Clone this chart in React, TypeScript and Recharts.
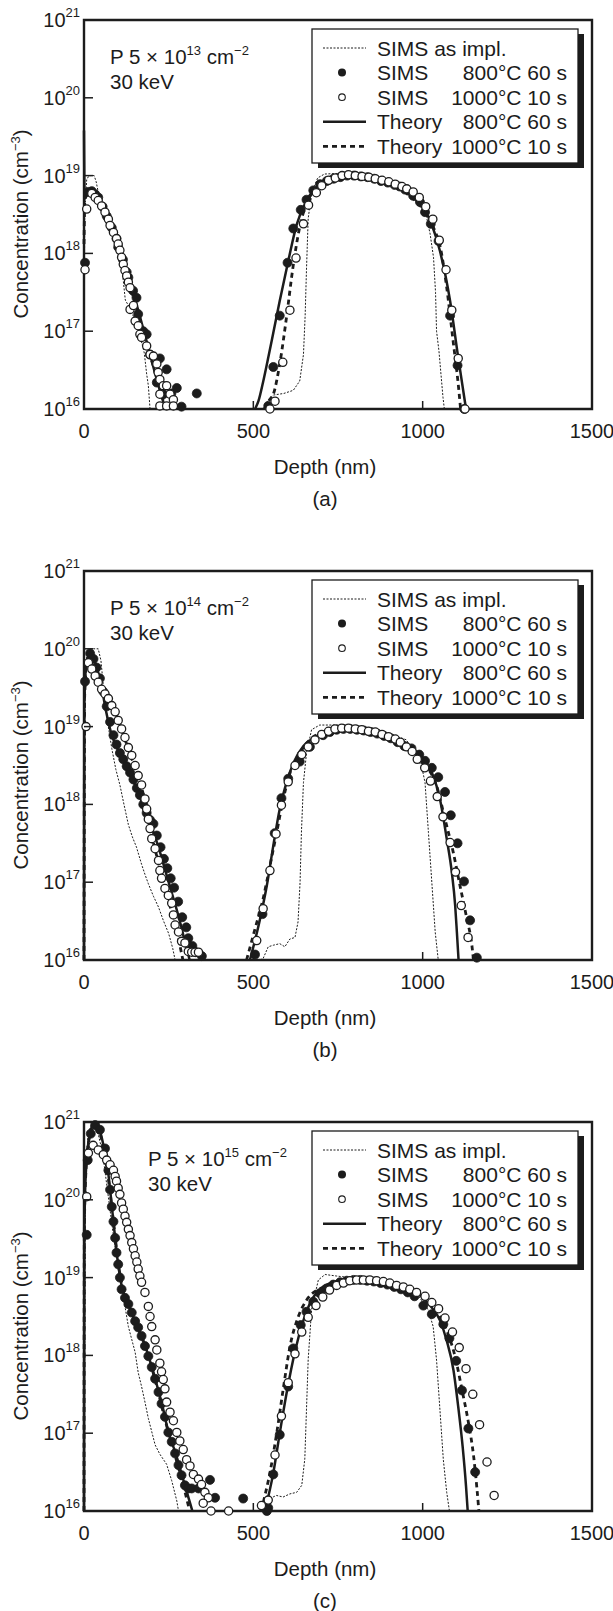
import React from 'react'
import { ComposedChart, Line, Scatter, XAxis, YAxis, ReferenceArea } from 'recharts'

// [depth in nm, log10 of concentration in cm^-3]
type Pt = [number, number]

const depthTicks = [0, 500, 1000, 1500]
const concTicks = [1e16, 1e17, 1e18, 1e19, 1e20, 1e21]

// ---- (a) P 5e13 cm-2 ----
const aImplNear: Pt[] = [[0, 16], [2, 18.5], [8, 18.95], [15, 19.0], [30, 19.0], [36, 18.92], [45, 18.72], [57, 18.46], [75, 18.3], [95, 18.12], [108, 17.95], [116, 17.65], [122, 17.4], [135, 17.3], [150, 17.15], [165, 16.95], [178, 16.72], [185, 16.45], [190, 16.3], [195, 16.0]]
const aImplDeep: Pt[] = [[528, 16.0], [545, 16.12], [560, 16.18], [590, 16.2], [618, 16.24], [637, 16.36], [648, 16.7], [653, 17.2], [657, 17.8], [662, 18.45], [672, 18.77], [690, 18.97], [710, 19.02], [760, 19.03], [820, 19.01], [880, 18.97], [940, 18.88], [990, 18.7], [1010, 18.5], [1022, 18.25], [1032, 17.95], [1038, 17.5], [1041, 17.0], [1048, 16.75], [1055, 16.4], [1060, 16.15], [1064, 16.0]]
const aS800Near: Pt[] = [[3, 17.88], [13, 18.79], [23, 18.8], [33, 18.76], [42, 18.72], [55, 18.6], [67, 18.48], [82, 18.33], [96, 18.19], [101, 18.08], [115, 17.92], [126, 17.76], [131, 17.69], [145, 17.52], [155, 17.43], [160, 17.22], [175, 17.0], [185, 16.96], [195, 16.7], [215, 16.34], [224, 16.65], [234, 16.19], [244, 16.51], [258, 16.2], [274, 16.27], [288, 16.03], [333, 16.2]]
const aS800Deep: Pt[] = [[544, 16.04], [559, 16.54], [578, 17.2], [601, 17.88], [618, 18.32], [640, 18.56], [657, 18.69], [677, 18.81], [697, 18.89], [717, 18.93], [737, 18.96], [757, 18.98], [777, 19.0], [797, 19.0], [817, 18.99], [837, 18.98], [857, 18.96], [877, 18.93], [897, 18.91], [917, 18.88], [932, 18.86], [948, 18.82], [972, 18.74], [992, 18.66], [1007, 18.53], [1024, 18.38], [1047, 18.16], [1081, 17.2], [1103, 16.56], [1123, 16.0]]
const aS1000Near: Pt[] = [[3, 17.79], [8, 18.57], [23, 18.77], [33, 18.72], [42, 18.68], [52, 18.61], [62, 18.53], [72, 18.44], [77, 18.36], [87, 18.27], [96, 18.19], [101, 18.12], [106, 18.04], [111, 17.95], [116, 17.86], [121, 17.78], [126, 17.71], [131, 17.63], [136, 17.56], [136, 17.28], [146, 17.33], [151, 17.13], [160, 17.07], [165, 16.96], [170, 16.92], [185, 16.81], [195, 16.7], [205, 16.68], [215, 16.58], [219, 16.47], [224, 16.38], [234, 16.3], [244, 16.3], [254, 16.19], [264, 16.12], [224, 16.19], [224, 16.04], [244, 16.04], [264, 16.04]]
const aS1000Deep: Pt[] = [[549, 16.0], [564, 16.1], [587, 16.6], [608, 17.27], [626, 17.94], [648, 18.38], [663, 18.62], [686, 18.78], [702, 18.87], [722, 18.94], [742, 18.97], [762, 19.0], [781, 19.01], [801, 19.0], [821, 18.99], [841, 18.98], [860, 18.96], [880, 18.94], [900, 18.92], [919, 18.89], [939, 18.86], [953, 18.83], [972, 18.79], [990, 18.72], [1009, 18.6], [1030, 18.44], [1049, 18.17], [1069, 17.79], [1086, 17.27], [1105, 16.65], [1125, 16.0]]
const aT800Near: Pt[] = [[0, 19.58], [2, 18.7], [10, 18.76], [22, 18.79], [40, 18.72], [60, 18.55], [80, 18.36], [100, 18.13], [120, 17.87], [140, 17.57], [160, 17.27], [180, 16.95], [200, 16.62], [220, 16.3], [235, 16.08], [240, 16.0]]
const aT800Deep: Pt[] = [[505, 16.0], [515, 16.1], [529, 16.35], [545, 16.68], [559, 16.98], [578, 17.39], [603, 17.9], [628, 18.37], [657, 18.68], [687, 18.85], [736, 18.98], [785, 19.0], [854, 18.96], [923, 18.85], [982, 18.68], [1022, 18.42], [1051, 18.03], [1081, 17.39], [1105, 16.66], [1128, 16.0]]
const aT1000Near: Pt[] = [[0, 18.12], [3, 18.72], [15, 18.77], [30, 18.75], [50, 18.63], [75, 18.4], [100, 18.1], [125, 17.75], [150, 17.38], [175, 17.0], [200, 16.62], [222, 16.3], [236, 16.08], [242, 16.0]]
const aT1000Deep: Pt[] = [[534, 16.0], [548, 16.12], [559, 16.19], [578, 16.58], [598, 17.18], [617, 17.82], [637, 18.34], [657, 18.64], [687, 18.85], [736, 18.98], [785, 19.0], [854, 18.96], [923, 18.85], [982, 18.66], [1020, 18.45], [1035, 18.3], [1051, 18.1], [1071, 17.56], [1090, 16.87], [1105, 16.32], [1112, 16.0]]

// ---- (b) P 5e14 cm-2 ----
const bImplNear: Pt[] = [[0, 16], [3, 19.3], [8, 19.9], [18, 20.0], [42, 20.0], [50, 19.85], [57, 19.53], [70, 19.05], [82, 18.72], [94, 18.45], [106, 18.25], [118, 18.0], [131, 17.74], [143, 17.58], [155, 17.45], [170, 17.23], [180, 17.1], [190, 16.98], [205, 16.82], [220, 16.68], [235, 16.5], [250, 16.34], [262, 16.15], [269, 16.0]]
const bImplDeep: Pt[] = [[520, 16.0], [529, 16.02], [544, 16.17], [559, 16.19], [578, 16.21], [593, 16.17], [608, 16.27], [623, 16.29], [632, 16.49], [638, 17.0], [642, 17.64], [648, 18.28], [657, 18.66], [672, 18.96], [696, 19.02], [755, 19.02], [854, 18.98], [952, 18.83], [997, 18.49], [1007, 18.28], [1017, 17.64], [1027, 17.0], [1037, 16.36], [1046, 16.0]]
const bS800Near: Pt[] = [[3, 19.58], [18, 19.94], [28, 19.87], [37, 19.76], [47, 19.62], [57, 19.45], [67, 19.26], [77, 19.06], [87, 18.89], [96, 18.77], [106, 18.66], [116, 18.58], [126, 18.49], [136, 18.41], [146, 18.32], [156, 18.21], [165, 18.12], [175, 18.0], [185, 17.89], [195, 17.8], [205, 17.75], [215, 17.6], [226, 17.45], [236, 17.3], [246, 17.18], [256, 17.05], [266, 16.93], [278, 16.75], [290, 16.55], [302, 16.42], [308, 16.28], [320, 16.18], [330, 16.1], [348, 16.05]]
const bS800Deep: Pt[] = [[505, 16.07], [527, 16.59], [563, 17.63], [583, 18.08], [603, 18.33], [637, 18.55], [667, 18.74], [706, 18.89], [726, 18.93], [746, 18.96], [766, 18.97], [786, 18.97], [806, 18.96], [826, 18.95], [846, 18.93], [866, 18.91], [886, 18.88], [906, 18.85], [926, 18.8], [946, 18.75], [967, 18.72], [990, 18.64], [1007, 18.56], [1027, 18.47], [1046, 18.35], [1066, 18.16], [1083, 17.86], [1103, 17.5], [1122, 17.01], [1140, 16.51], [1160, 16.03]]
const bS1000Near: Pt[] = [[6, 19.0], [13, 19.82], [23, 19.74], [33, 19.65], [42, 19.57], [52, 19.48], [62, 19.42], [72, 19.36], [82, 19.27], [92, 19.19], [101, 19.08], [111, 18.97], [121, 18.86], [131, 18.73], [141, 18.63], [151, 18.5], [160, 18.37], [170, 18.25], [180, 18.07], [185, 17.94], [190, 17.81], [195, 17.69], [200, 17.56], [210, 17.43], [220, 17.28], [224, 17.15], [229, 17.05], [239, 16.92], [249, 16.83], [259, 16.73], [264, 16.58], [269, 16.45], [279, 16.36], [288, 16.24], [298, 16.22], [308, 16.11], [318, 16.1], [328, 16.1], [338, 16.1]]
const bS1000Deep: Pt[] = [[510, 16.25], [529, 16.66], [549, 17.15], [567, 17.62], [583, 17.99], [603, 18.29], [623, 18.5], [643, 18.64], [662, 18.74], [682, 18.83], [702, 18.9], [722, 18.94], [741, 18.97], [761, 18.98], [781, 18.98], [801, 18.97], [820, 18.96], [840, 18.94], [860, 18.93], [880, 18.9], [899, 18.87], [919, 18.84], [934, 18.8], [952, 18.74], [969, 18.68], [984, 18.58], [1006, 18.47], [1023, 18.3], [1043, 18.1], [1060, 17.84], [1081, 17.51], [1097, 17.13], [1114, 16.7], [1134, 16.29]]
const bT800Near: Pt[] = [[0, 16.0], [1, 19.3], [8, 19.85], [20, 19.93], [35, 19.8], [50, 19.55], [65, 19.2], [80, 18.92], [100, 18.7], [120, 18.52], [140, 18.35], [160, 18.15], [180, 17.93], [200, 17.7], [220, 17.45], [240, 17.15], [260, 16.85], [280, 16.55], [300, 16.2], [312, 16.0]]
const bT800Deep: Pt[] = [[490, 16.0], [520, 16.53], [540, 16.96], [559, 17.47], [578, 17.94], [598, 18.28], [618, 18.53], [648, 18.75], [677, 18.85], [716, 18.94], [775, 18.98], [854, 18.96], [913, 18.87], [962, 18.75], [997, 18.6], [1027, 18.41], [1051, 18.07], [1071, 17.56], [1086, 17.13], [1096, 16.7], [1101, 16.36], [1106, 16.0]]
const bT1000Near: Pt[] = [[0, 16.0], [2, 19.4], [10, 19.85], [22, 19.78], [40, 19.6], [60, 19.42], [80, 19.28], [100, 19.1], [120, 18.85], [140, 18.6], [160, 18.35], [180, 18.05], [200, 17.6], [220, 17.25], [245, 16.85], [265, 16.5], [280, 16.25], [292, 16.0]]
const bT1000Deep: Pt[] = [[480, 16.0], [505, 16.4], [529, 16.79], [549, 17.21], [569, 17.64], [588, 18.06], [608, 18.4], [637, 18.66], [667, 18.83], [716, 18.94], [775, 18.98], [854, 18.96], [913, 18.87], [962, 18.72], [1012, 18.49], [1041, 18.24], [1066, 17.81], [1090, 17.39], [1110, 16.96], [1130, 16.54], [1145, 16.2], [1150, 16.0]]

// ---- (c) P 5e15 cm-2 ----
const cImplNear: Pt[] = [[0, 16.0], [4, 20.3], [12, 20.85], [23, 20.98], [38, 20.92], [55, 20.6], [70, 20.1], [85, 19.6], [100, 19.15], [112, 18.85], [121, 18.63], [131, 18.37], [151, 18.04], [160, 17.78], [170, 17.6], [180, 17.4], [190, 17.19], [210, 16.85], [224, 16.73], [244, 16.6], [259, 16.39], [274, 16.13], [279, 16.0]]
const cImplDeep: Pt[] = [[530, 16.0], [549, 16.16], [568, 16.2], [588, 16.18], [608, 16.22], [628, 16.24], [643, 16.33], [652, 16.67], [657, 17.31], [662, 17.95], [672, 18.59], [692, 18.97], [712, 19.04], [746, 19.02], [805, 18.99], [880, 18.95], [940, 18.88], [982, 18.8], [1017, 18.58], [1031, 18.37], [1041, 17.94], [1051, 17.3], [1061, 16.66], [1071, 16.24], [1079, 16.0]]
const cS800Near: Pt[] = [[8, 19.55], [11, 20.51], [20, 20.85], [33, 20.96], [47, 20.9], [62, 20.66], [72, 20.38], [77, 20.13], [82, 19.91], [87, 19.72], [92, 19.51], [96, 19.32], [101, 19.17], [106, 19.0], [111, 18.85], [121, 18.74], [131, 18.66], [141, 18.55], [151, 18.44], [160, 18.36], [170, 18.25], [180, 18.12], [190, 17.99], [200, 17.85], [210, 17.7], [220, 17.53], [229, 17.38], [239, 17.21], [249, 17.01], [259, 16.89], [269, 16.74], [279, 16.59], [288, 16.46], [298, 16.33], [308, 16.29], [318, 16.29], [338, 16.29], [372, 16.4], [387, 16.17], [470, 16.16], [540, 16.0]]
const cS800Deep: Pt[] = [[544, 16.04], [559, 16.47], [578, 16.98], [603, 17.6], [618, 18.09], [640, 18.39], [657, 18.56], [677, 18.69], [696, 18.8], [716, 18.86], [736, 18.91], [756, 18.94], [776, 18.96], [796, 18.97], [816, 18.97], [836, 18.96], [856, 18.95], [876, 18.93], [896, 18.91], [916, 18.88], [936, 18.85], [956, 18.81], [976, 18.76], [1002, 18.64], [1027, 18.53], [1061, 18.4], [1079, 18.22], [1099, 17.93], [1116, 17.55], [1135, 17.06], [1155, 16.5]]
const cS1000Near: Pt[] = [[8, 20.04], [13, 20.6], [27, 20.7], [42, 20.64], [57, 20.58], [67, 20.51], [77, 20.45], [87, 20.38], [92, 20.3], [96, 20.24], [101, 20.15], [106, 20.07], [111, 19.96], [116, 19.88], [121, 19.79], [126, 19.71], [131, 19.62], [136, 19.54], [141, 19.45], [146, 19.37], [151, 19.28], [156, 19.2], [160, 19.11], [165, 19.02], [170, 18.94], [180, 18.81], [190, 18.63], [195, 18.5], [200, 18.37], [210, 18.2], [215, 18.07], [224, 17.9], [229, 17.79], [234, 17.69], [239, 17.57], [244, 17.4], [254, 17.27], [264, 17.16], [274, 17.01], [283, 16.9], [293, 16.79], [303, 16.66], [313, 16.58], [323, 16.47], [338, 16.41], [347, 16.34], [357, 16.24], [367, 16.17], [352, 16.1], [375, 16.0], [427, 16.0]]
const cS1000Deep: Pt[] = [[524, 16.07], [544, 16.14], [564, 16.72], [583, 17.22], [603, 17.65], [623, 18.02], [643, 18.3], [662, 18.49], [685, 18.64], [705, 18.75], [725, 18.84], [746, 18.9], [766, 18.93], [785, 18.96], [805, 18.97], [825, 18.97], [844, 18.97], [864, 18.96], [884, 18.95], [903, 18.93], [923, 18.9], [943, 18.88], [962, 18.85], [982, 18.81], [1007, 18.76], [1027, 18.68], [1047, 18.6], [1066, 18.48], [1088, 18.3], [1108, 18.1], [1128, 17.83], [1148, 17.5], [1168, 17.11], [1190, 16.63], [1211, 16.2]]
const cT800Near: Pt[] = [[0, 16.0], [1, 19.5], [4, 20.2], [12, 20.7], [25, 20.95], [40, 20.95], [55, 20.75], [70, 20.4], [85, 19.8], [100, 19.2], [110, 18.92], [130, 18.66], [150, 18.45], [170, 18.25], [190, 18.0], [210, 17.7], [230, 17.38], [250, 17.0], [270, 16.75], [290, 16.45], [310, 16.15], [320, 16.0]]
const cT800Deep: Pt[] = [[534, 16.0], [559, 16.49], [578, 17.0], [598, 17.51], [624, 18.07], [648, 18.45], [672, 18.71], [707, 18.88], [756, 18.96], [829, 18.98], [903, 18.94], [972, 18.84], [1022, 18.64], [1051, 18.45], [1071, 18.19], [1091, 17.81], [1105, 17.34], [1118, 16.83], [1128, 16.32], [1133, 16.0]]
const cT1000Near: Pt[] = [[0, 16.0], [1, 19.6], [5, 20.3], [14, 20.75], [28, 20.93], [42, 20.9], [58, 20.65], [74, 20.2], [90, 19.6], [104, 19.1], [116, 18.85], [135, 18.62], [155, 18.4], [175, 18.18], [195, 17.92], [215, 17.6], [235, 17.25], [255, 16.92], [275, 16.62], [295, 16.3], [312, 16.0]]
const cT1000Deep: Pt[] = [[524, 16.0], [529, 16.1], [549, 16.49], [569, 17.0], [588, 17.56], [608, 18.11], [633, 18.5], [657, 18.71], [707, 18.88], [756, 18.96], [829, 18.98], [903, 18.94], [972, 18.84], [1041, 18.58], [1071, 18.32], [1096, 17.98], [1116, 17.56], [1135, 17.14], [1150, 16.72], [1160, 16.3], [1166, 16.0]]

const legendRows = [
  { mark: 'impl', name: 'SIMS as impl.', cond: '' },
  { mark: 'filled', name: 'SIMS', cond: '800°C 60 s' },
  { mark: 'open', name: 'SIMS', cond: '1000°C 10 s' },
  { mark: 'solid', name: 'Theory', cond: '800°C 60 s' },
  { mark: 'dashed', name: 'Theory', cond: '1000°C 10 s' },
]

const panels = [
  { tag: '(a)', dose: '13', annX: 110, impl: [aImplNear, aImplDeep], s800: [aS800Near, aS800Deep], s1000: [aS1000Near, aS1000Deep], t800: [aT800Near, aT800Deep], t1000: [aT1000Near, aT1000Deep] },
  { tag: '(b)', dose: '14', annX: 110, impl: [bImplNear, bImplDeep], s800: [bS800Near, bS800Deep], s1000: [bS1000Near, bS1000Deep], t800: [bT800Near, bT800Deep], t1000: [bT1000Near, bT1000Deep] },
  { tag: '(c)', dose: '15', annX: 148, impl: [cImplNear, cImplDeep], s800: [cS800Near, cS800Deep], s1000: [cS1000Near, cS1000Deep], t800: [cT800Near, cT800Deep], t1000: [cT1000Near, cT1000Deep] },
]

const W = 613
const H = 551
const INK = '#1c1c1c'

const toData = (pts: Pt[]) => pts.map(([x, lg]) => ({ x, y: Math.pow(10, lg) }))

const YTick = (p: any) => {
  const exp = Math.round(Math.log10(p.payload.value))
  return (
    <g>
      <line x1={p.x} x2={p.x + 9} y1={p.y} y2={p.y} stroke={INK} strokeWidth={1.5} />
      <text x={p.x - 4} y={p.y + 7} textAnchor="end" fontSize={20} fill={INK}>
        10<tspan dy={-10} fontSize={13}>{exp}</tspan>
      </text>
    </g>
  )
}

const XTick = (p: any) => (
  <g>
    <line x1={p.x} x2={p.x} y1={p.y} y2={p.y - 8} stroke={INK} strokeWidth={1.5} />
    <text x={p.x} y={p.y + 29} textAnchor="middle" fontSize={20} fill={INK}>{p.payload.value}</text>
  </g>
)

const filledDot = (p: any) => <circle cx={p.cx} cy={p.cy} r={4.5} fill={INK} stroke={INK} strokeWidth={0.8} />
const openDot = (p: any) => <circle cx={p.cx} cy={p.cy} r={4.1} fill="#fff" stroke={INK} strokeWidth={1.3} />

function LegendBox() {
  const x0 = 312
  const y0 = 29
  return (
    <g>
      <rect x={x0 + 6} y={y0 + 5} width={266} height={134} fill={INK} />
      <rect x={x0} y={y0} width={266} height={134} fill="#fff" stroke={INK} strokeWidth={1.3} />
      {legendRows.map((r, i) => {
        const cy = 48 + i * 24.6
        return (
          <g key={i}>
            {r.mark === 'impl' && <line x1={323} x2={366} y1={cy} y2={cy} stroke={INK} strokeWidth={1} strokeDasharray="2 1.5" />}
            {r.mark === 'filled' && <circle cx={342} cy={cy} r={4} fill={INK} />}
            {r.mark === 'open' && <circle cx={342} cy={cy} r={3.3} fill="#fff" stroke={INK} strokeWidth={1.1} />}
            {r.mark === 'solid' && <line x1={323} x2={366} y1={cy} y2={cy} stroke={INK} strokeWidth={2.5} />}
            {r.mark === 'dashed' && <line x1={323} x2={366} y1={cy} y2={cy} stroke={INK} strokeWidth={2.8} strokeDasharray="5 4" />}
            <text x={377} y={cy + 7.5} fontSize={21} fill={INK}>{r.name}</text>
            {r.cond && <text x={567} y={cy + 7.5} fontSize={21} fill={INK} textAnchor="end">{r.cond}</text>}
          </g>
        )
      })}
    </g>
  )
}

function Panel({ cfg, top }: { cfg: any; top: number }) {
  return (
    <div style={{ position: 'absolute', left: 0, top, width: W, height: H }}>
      <ComposedChart width={W} height={H} margin={{ top: 20, right: 21, bottom: 112, left: 83 }}>
        <XAxis type="number" dataKey="x" domain={[0, 1500]} ticks={depthTicks} interval={0}
          tick={XTick} tickLine={false} axisLine={false} tickSize={0} tickMargin={0} height={30} />
        <YAxis type="number" dataKey="y" scale="log" domain={[1e16, 1e21]} ticks={concTicks} interval={0}
          tick={YTick} tickLine={false} axisLine={false} tickSize={0} tickMargin={0} width={1} />
        <ReferenceArea x1={0} x2={1500} y1={1e16} y2={1e21} fill="none" stroke={INK} strokeWidth={2.4} />
        {cfg.impl.map((seg: Pt[], i: number) => (
          <Line key={'impl' + i} data={toData(seg)} dataKey="y" type="linear" stroke={INK} strokeWidth={1}
            strokeDasharray="2 1.5" dot={false} activeDot={false} isAnimationActive={false} />
        ))}
        {cfg.t800.map((seg: Pt[], i: number) => (
          <Line key={'t800' + i} data={toData(seg)} dataKey="y" type="monotone" stroke={INK} strokeWidth={2.5}
            dot={false} activeDot={false} isAnimationActive={false} />
        ))}
        {cfg.t1000.map((seg: Pt[], i: number) => (
          <Line key={'t1000' + i} data={toData(seg)} dataKey="y" type="monotone" stroke={INK} strokeWidth={2.8}
            strokeDasharray="5 4" dot={false} activeDot={false} isAnimationActive={false} />
        ))}
        <Scatter data={toData([...cfg.s800[0], ...cfg.s800[1]])} shape={filledDot} isAnimationActive={false} />
        <Scatter data={toData([...cfg.s1000[0], ...cfg.s1000[1]])} shape={openDot} isAnimationActive={false} />
      </ComposedChart>
      <svg width={W} height={H} style={{ position: 'absolute', left: 0, top: 0, pointerEvents: 'none' }}>
        <text x={cfg.annX} y={64} fontSize={20.5} fill={INK}>
          P 5 × 10<tspan dy={-9} fontSize={13}>{cfg.dose}</tspan>
          <tspan dy={9}> cm</tspan><tspan dy={-9} fontSize={13}>−2</tspan>
        </text>
        <text x={cfg.annX} y={89} fontSize={20.5} fill={INK}>30 keV</text>
        <LegendBox />
        <text transform="rotate(-90 28 224)" x={28} y={224} textAnchor="middle" fontSize={20.5} fill={INK}>
          Concentration (cm<tspan dy={-8} fontSize={13}>−3</tspan><tspan dy={8}>)</tspan>
        </text>
        <text x={325} y={474} textAnchor="middle" fontSize={20.5} fill={INK}>Depth (nm)</text>
        <text x={325} y={506} textAnchor="middle" fontSize={20.5} fill={INK}>{cfg.tag}</text>
      </svg>
    </div>
  )
}

export default function App() {
  return (
    <div style={{
      position: 'absolute', left: 0, top: 0, width: W, height: 1611, background: '#fff',
      fontFamily: '"Liberation Sans", Arial, Helvetica, sans-serif',
    }}>
      {panels.map((cfg, i) => <Panel key={cfg.tag} cfg={cfg} top={i * H} />)}
    </div>
  )
}
